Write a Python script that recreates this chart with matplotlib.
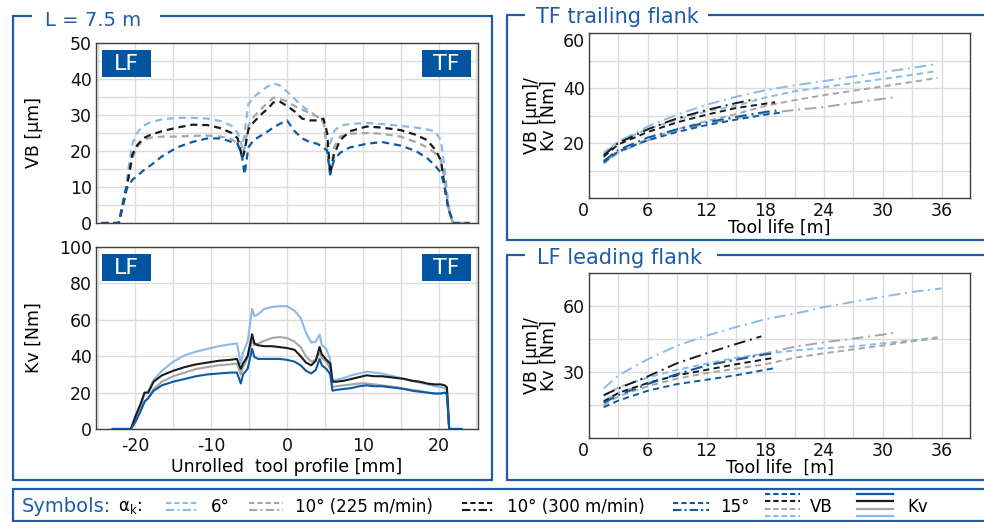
import matplotlib
matplotlib.use('Agg')
import matplotlib.pyplot as plt
from matplotlib.patches import Rectangle
from matplotlib.ticker import MultipleLocator

plt.rcParams['font.family'] = ['DejaVu Sans']
plt.rcParams['axes.unicode_minus'] = False

# ---------------- data ----------------
angles = ['6°', '10° (225 m/min)', '10° (300 m/min)', '15°']

# unrolled tool profile [mm] for VB curves
vb_profile_x = [-24.5, -22.2, -21.3, -20.4, -19.8, -19.0, -18.0, -16.5, -14.5, -12.5, -10.5, -8.7,
                -7.3, -6.5, -5.9, -5.6, -5.1, -4.4, -3.5, -2.5, -1.8, -1.0, 0.0, 1.0, 2.0, 3.0,
                4.0, 4.8, 5.3, 5.7, 6.2, 7.0, 8.3, 10.5, 12.5, 15.0, 17.0, 18.5, 19.5, 20.3,
                20.8, 21.3, 21.9, 24.1]
vb_6 = [0, 0, 10, 22, 25, 27, 28, 28.8, 29.2, 29.2, 29, 28.3,
        27, 25, 21, 25, 33, 35, 36.5, 38, 38.7, 38.3, 36.5, 34.5, 32.5, 31,
        29.5, 28, 20.5, 22, 25.5, 27, 27.5, 27.8, 27.5, 27, 26.5, 26, 25.5, 23,
        15, 5, 0, 0]
vb_10a = [0, 0, 8, 18, 21, 23, 23.7, 24, 24, 24.2, 24.3, 24,
          23.3, 22, 19, 21, 27, 29.5, 31.5, 33.5, 34.8, 34.5, 33.8, 32.5, 31.5, 30.5,
          29.5, 28.5, 20, 13, 21, 24, 24.8, 25, 24.8, 24, 22.5, 21, 19.5, 17.5,
          12, 4, 0, 0]
vb_10b = [0, 0, 8, 19, 21.5, 23.5, 24.5, 25.5, 26.5, 27.3, 27.2, 26.3,
          25, 23.5, 18, 20, 26, 28, 30, 31.8, 33.5, 33.8, 32.5, 31, 29, 28.5,
          28.5, 29, 25, 13.5, 19, 23, 25.5, 26.8, 26.5, 25.8, 24.5, 23, 20.5, 17.5,
          10, 4, 0, 0]
vb_15 = [0, 0, 9, 12, 13, 14.5, 16, 18.5, 21, 22.5, 23.5, 23.5,
         22.5, 22, 18, 13.5, 21, 23, 24.2, 25.5, 26.5, 27.5, 28.5, 25.5, 23.5, 22.5,
         22, 21, 20, 13.5, 17.5, 19.5, 21, 22, 22.5, 21.5, 20, 18, 16, 14,
         10, 4, 0, 0]

# unrolled tool profile [mm] for Kv curves
kv_profile_x = [-23, -20.6, -20.0, -19.3, -18.8, -18.3, -17.6, -16.5, -15, -13.5, -12, -10.5,
                -9, -7.5, -6.6, -6.1, -5.8, -5.2, -4.6, -4.3, -3.8, -3, -2, -1, 0, 1,
                1.8, 2.5, 3.2, 3.8, 4.3, 4.6, 5.2, 5.7, 6.0, 6.5, 7.5, 8.5, 9.5, 10.5,
                11.5, 12.5, 13.5, 14.5, 15.5, 16.5, 17.5, 18.5, 19.5, 20.3, 20.8, 21.1, 21.4, 23]
kv_6 = [0, 0, 6, 13, 19, 21, 27, 32, 37, 40.5, 42.5, 44,
        45.5, 46.5, 47, 36, 42, 48, 66, 62, 63, 66, 67, 67.5, 67.5, 65,
        61, 53, 47.5, 48, 52, 46, 44, 38, 27, 27, 28, 29.5, 30.5, 31.5,
        31, 30.5, 29.5, 28.5, 27.5, 26.5, 25.5, 24.5, 23.5, 23, 22.5, 21, 0, 0]
kv_10a = [0, 0, 4, 10, 15, 17, 22, 26, 29, 31, 33, 34,
          35, 35.5, 36, 30, 34, 39, 48, 46, 47, 48.5, 50, 50.5, 50, 48,
          45, 40, 37, 38, 42, 39, 37, 33, 23, 23.5, 24, 24.5, 25, 25,
          24.5, 24, 23.5, 23, 22, 21.5, 21, 20, 19.5, 19.5, 20, 19, 0, 0]
kv_10b = [0, 0, 7, 14, 20, 20, 26, 29.5, 32, 34, 35.5, 36.5,
          37.5, 38, 38.5, 33, 36, 40, 52, 47, 46, 45.5, 45.5, 45, 44.5, 43.5,
          40, 36.5, 35, 37.5, 45, 41, 38, 36, 26, 26, 26.5, 27.5, 28.5, 29.5,
          29, 29, 28.5, 28, 27.5, 26.5, 26, 25, 24.5, 24.5, 24, 23, 0, 0]
kv_15 = [0, 0, 4, 10, 15, 17, 21, 24, 26, 27.5, 29, 30,
         30.5, 31, 31, 25, 30, 33, 44, 39.5, 38.5, 38.5, 38.5, 38.5, 38, 37,
         35, 32, 30.5, 32.5, 38.5, 35, 33, 30, 21, 21.5, 22, 22.5, 23.5, 24,
         23.5, 23.5, 23, 22.5, 22, 21, 20.5, 20, 19.5, 19.5, 20, 19, 0, 0]

# TF trailing flank: tool life [m] vs VB / Kv
tf_vb_6_x = [1.5, 3, 6, 9, 12, 15, 18, 21, 24, 27, 30, 33, 35.6]
tf_vb_6 = [16.5, 20.5, 25, 28.5, 31.5, 33.5, 36.5, 38.8, 40.3, 41.8, 43.3, 44.8, 46.2]
tf_kv_6_x = [1.5, 3, 6, 9, 12, 15, 18, 21, 24, 27, 30, 33, 35.5]
tf_kv_6 = [16, 20.5, 26, 30.3, 33.9, 36.8, 39.2, 41, 42.5, 44.2, 45.8, 47.3, 48.7]
tf_vb_10a_x = [1.5, 3, 6, 9, 12, 15, 18, 21, 24, 27, 30, 33, 35.6]
tf_vb_10a = [12.5, 16.5, 21.5, 25, 28, 30.5, 33.5, 35.6, 37.4, 39, 40.6, 42.2, 43.7]
tf_kv_10a_x = [1.5, 3, 6, 9, 12, 15, 18, 21, 24, 27, 30, 31.5]
tf_kv_10a = [13, 16.5, 21, 24.5, 27, 29, 30.8, 32, 33.1, 34.6, 36.1, 36.8]
tf_vb_10b_x = [1.5, 3, 6, 9, 12, 15, 18, 19]
tf_vb_10b = [15, 19.5, 24, 27.5, 30.3, 32.7, 34.3, 34.8]
tf_kv_10b_x = [1.5, 3, 6, 9, 12, 15, 17]
tf_kv_10b = [15.5, 20, 25, 29, 32, 34.5, 36]
tf_vb_15_x = [1.5, 3, 6, 9, 12, 15, 18, 19.5]
tf_vb_15 = [13, 17, 21, 24, 26.5, 28.5, 30.3, 31]
tf_kv_15_x = [1.5, 3, 6, 9, 12, 15, 18, 19.5]
tf_kv_15 = [13.5, 17.5, 22, 25, 27.5, 29.5, 31.3, 32]

# LF leading flank
lf_vb_6_x = [1.5, 3, 6, 9, 12, 15, 18, 21, 24, 27, 30, 33, 35.6]
lf_vb_6 = [19, 23, 27.5, 31, 33.8, 36.5, 38.3, 39.8, 40.8, 41.6, 43, 44.4, 45.8]
lf_kv_6_x = [1.5, 3, 6, 9, 12, 15, 18, 21, 24, 27, 30, 33, 36]
lf_kv_6 = [22.5, 28.5, 35.8, 42, 46.5, 50.4, 54, 56.5, 59.5, 61.9, 64.2, 66.4, 68]
lf_vb_10a_x = [1.5, 3, 6, 9, 12, 15, 18, 21, 24, 27, 30, 33, 36]
lf_vb_10a = [15, 19, 23.5, 27, 29.5, 31.5, 33.5, 36.5, 38.5, 40.3, 42, 44, 45.5]
lf_kv_10a_x = [1.5, 3, 6, 9, 12, 15, 18, 21, 24, 27, 30, 31.5]
lf_kv_10a = [17, 20.5, 25, 29, 33, 36, 38.5, 41.5, 43.5, 45.2, 47, 48]
lf_vb_10b_x = [1.5, 3, 6, 9, 12, 15, 18, 19]
lf_vb_10b = [16.5, 20.5, 25, 28.5, 31, 33.5, 35.8, 36.5]
lf_kv_10b_x = [1.5, 3, 6, 9, 12, 15, 17.6]
lf_kv_10b = [19.5, 22.5, 28, 34, 38.5, 42.7, 46.2]
lf_vb_15_x = [1.5, 3, 6, 9, 12, 15, 18, 19]
lf_vb_15 = [14, 17, 21.5, 24.5, 26.5, 28.5, 31, 31.8]
lf_kv_15_x = [1.5, 3, 6, 9, 12, 15, 18, 19]
lf_kv_15 = [16, 19.5, 24.5, 29, 33, 35.5, 38, 38.5]

tool_life_ticks = [0, 6, 12, 18, 24, 30, 36]

# ---------------- style ----------------
C6, C10A, C10B, C15 = '#8cb9e8', '#a6a6a6', '#1a1a1a', '#0b5aa8'
colors = [C6, C10A, C10B, C15]
FRAME = '#1f5ca8'
TAG = '#0055a0'
VB_LS = (0, (3.2, 2.2))
KV_LS = (0, (6, 2.5, 1, 2.5))

W, H = 984, 522
fig = plt.figure(figsize=(W / 100, H / 100), dpi=100)


def ax_at(x0, y0, x1, y1):
    return fig.add_axes([x0 / W, 1 - y1 / H, (x1 - x0) / W, (y1 - y0) / H])


def style(ax):
    for s in ax.spines.values():
        s.set_color('#404040')
        s.set_linewidth(1.0)
    ax.tick_params(which='both', length=0, labelsize=12.5, pad=3, colors='#111111')
    ax.grid(True, which='both', color='#dcdcdc', lw=1.0)
    ax.set_axisbelow(True)


# ---- top-left: VB over profile ----
ax1 = ax_at(96, 43, 478, 223)
style(ax1)
for y, c in zip([vb_6, vb_10a, vb_10b, vb_15], colors):
    ax1.plot(vb_profile_x, y, color=c, lw=1.6, ls=VB_LS)
ax1.set_xlim(-25.2, 25.2)
ax1.set_ylim(0, 50)
ax1.xaxis.set_major_locator(MultipleLocator(10))
ax1.xaxis.set_minor_locator(MultipleLocator(5))
ax1.yaxis.set_major_locator(MultipleLocator(10))
ax1.yaxis.set_minor_locator(MultipleLocator(5))
ax1.set_xticklabels([])
ax1.set_ylabel('VB [µm]', fontsize=12.5)
ax1.yaxis.set_label_coords(-0.139, 0.5)

# ---- bottom-left: Kv over profile ----
ax2 = ax_at(96, 247, 478, 429)
style(ax2)
ax2.tick_params(axis='x', pad=6)
for y, c in zip([kv_6, kv_10a, kv_10b, kv_15], colors):
    ax2.plot(kv_profile_x, y, color=c, lw=1.5)
ax2.set_xlim(-25.2, 25.2)
ax2.set_ylim(0, 100)
ax2.xaxis.set_major_locator(MultipleLocator(10))
ax2.xaxis.set_minor_locator(MultipleLocator(5))
ax2.yaxis.set_major_locator(MultipleLocator(20))
ax2.set_ylabel('Kv [Nm]', fontsize=12.5)
ax2.yaxis.set_label_coords(-0.139, 0.5)
ax2.set_xlabel('Unrolled  tool profile [mm]', fontsize=12.5, labelpad=2)


# ---- right plots ----
def right_axes(y0, y1, ymax, ymaj, ymin, series, xlabel):
    ax = ax_at(589, y0, 970, y1)
    style(ax)
    for (xv, yv, xk, yk), c in zip(series, colors):
        ax.plot(xv, yv, color=c, lw=1.4, ls=VB_LS)
        ax.plot(xk, yk, color=c, lw=1.4, ls=KV_LS)
    ax.set_xlim(0, 38.9)
    ax.set_ylim(0, ymax)
    ax.set_xticks(tool_life_ticks)
    ax.set_xticklabels([str(t) for t in tool_life_ticks])
    ax.xaxis.set_minor_locator(MultipleLocator(3))
    ax.set_yticks(ymaj)
    ax.set_yticklabels([str(t) for t in ymaj])
    ax.set_yticks(ymin, minor=True)
    ax.set_ylabel('VB [µm]/\nKv [Nm]', fontsize=12.5, linespacing=0.95)
    ax.yaxis.set_label_coords(-0.081, 0.5)
    ax.set_xlabel(xlabel, fontsize=12.5, labelpad=-1)
    ax.xaxis.get_major_ticks()[0].label1.set_horizontalalignment('right')
    return ax


ax3 = right_axes(33, 198, 60, [20, 40, 60], [10, 30, 50],
                 [(tf_vb_6_x, tf_vb_6, tf_kv_6_x, tf_kv_6),
                  (tf_vb_10a_x, tf_vb_10a, tf_kv_10a_x, tf_kv_10a),
                  (tf_vb_10b_x, tf_vb_10b, tf_kv_10b_x, tf_kv_10b),
                  (tf_vb_15_x, tf_vb_15, tf_kv_15_x, tf_kv_15)],
                 'Tool life [m]')
ax3.yaxis.get_major_ticks()[-1].label1.set_verticalalignment('top')
ax4 = right_axes(273, 438, 75, [30, 60], [15, 45],
                 [(lf_vb_6_x, lf_vb_6, lf_kv_6_x, lf_kv_6),
                  (lf_vb_10a_x, lf_vb_10a, lf_kv_10a_x, lf_kv_10a),
                  (lf_vb_10b_x, lf_vb_10b, lf_kv_10b_x, lf_kv_10b),
                  (lf_vb_15_x, lf_vb_15, lf_kv_15_x, lf_kv_15)],
                 'Tool life  [m]')

# ---------------- overlay: frames, titles, tags, legend ----------------
ov = fig.add_axes([0, 0, 1, 1])
ov.set_xlim(0, W)
ov.set_ylim(H, 0)
ov.axis('off')

fr = dict(color=FRAME, lw=1.6, solid_joinstyle='miter', solid_capstyle='butt')
ov.plot([32, 13, 13, 492, 492, 160], [16, 16, 480, 480, 16, 16], **fr)
ov.plot([525, 507, 507, 984], [15, 15, 240, 240], **fr)
ov.plot([708, 984], [15, 15], **fr)
ov.plot([525, 507, 507, 984], [255, 255, 480, 480], **fr)
ov.plot([717, 984], [255, 255], **fr)
ov.plot([984, 13, 13, 984], [489, 489, 521, 521], **fr)

ov.text(45, 26, 'L = 7.5 m', color=FRAME, fontsize=14, va='baseline')
ov.text(536, 23, 'TF trailing flank', color=FRAME, fontsize=15, va='baseline')
ov.text(537, 264, 'LF leading flank', color=FRAME, fontsize=15, va='baseline')

for ytop in (50, 254):
    for x0, lab in ((102, 'LF'), (422, 'TF')):
        ov.add_patch(Rectangle((x0, ytop), 49, 27, color=TAG, lw=0))
        ov.text(x0 + 24.5, ytop + 14, lab, color='white', fontsize=16,
                ha='center', va='center')

# legend
ov.text(22, 507, 'Symbols:', color=FRAME, fontsize=14, va='center')
ov.text(118, 507, r'α$_\mathregular{k}$:', fontsize=12, va='center')
icon_x = [(166, 199), (249, 283), (462, 495), (673, 709)]
text_x = [211, 295, 507, 720]
for (a, b), tx, c, lab in zip(icon_x, text_x, colors, angles):
    ov.plot([a, b], [503, 503], color=c, lw=1.5, ls=(0, (2.5, 1.5)))
    ov.plot([a, b], [510, 510], color=c, lw=1.5, ls=(0, (4, 1.5, 1, 1.5)))
    ov.text(tx, 507, lab, fontsize=12, va='center')
row_y = [494, 501, 509, 516]
for ry, c in zip(row_y, [C15, C10B, C10A, C6]):
    ov.plot([765, 800], [ry, ry], color=c, lw=1.5, ls=(0, (2.5, 1.5)))
    ov.plot([857, 893], [ry, ry], color=c, lw=1.6)
ov.text(810, 507, 'VB', fontsize=12, va='center')
ov.text(907, 507, 'Kv', fontsize=12, va='center')

fig.savefig('out.png', dpi=100)
